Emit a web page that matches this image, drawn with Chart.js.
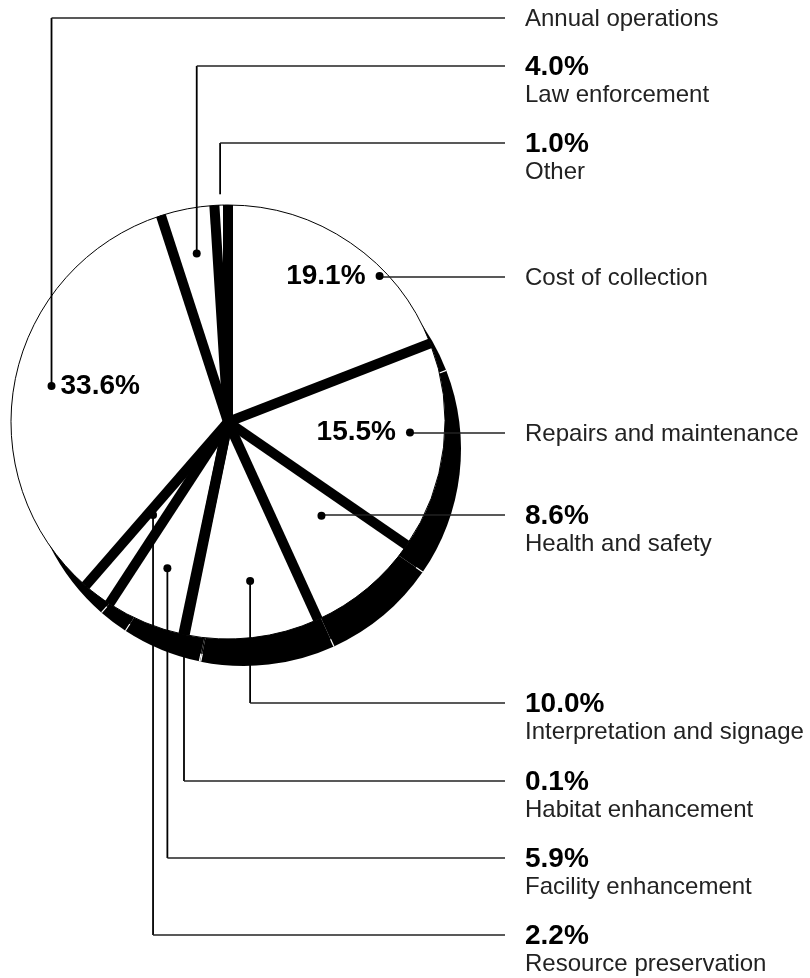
<!DOCTYPE html>
<html>
<head>
<meta charset="utf-8">
<script src="https://cdn.jsdelivr.net/npm/chart.js@4.4.0/dist/chart.umd.min.js"></script>
<style>
  html, body { margin: 0; padding: 0; background: #fff; }
</style>
</head>
<body>
<canvas id="chart" width="810" height="978"></canvas>
<script>
const categories = ['Cost of collection', 'Repairs and maintenance', 'Health and safety',
    'Interpretation and signage', 'Habitat enhancement', 'Facility enhancement',
    'Resource preservation', 'Annual operations', 'Law enforcement', 'Other'];
const shares = [19.1, 15.5, 8.6, 10.0, 0.1, 5.9, 2.2, 33.6, 4.0, 1.0];

// callout layout: row of each label, and where its leader starts inside the slice
const labelY = [277, 433, 515, 703, 781, 858, 935, 18, 66, 143];
const anchorFrac = [0.67, 0.44, 0.34, 0.46, 0.5, 0.5, 0.73, 0.5, 0.52, 0.45];
const anchorRadius = [0.97, 0.84, 0.61, 0.74, 1.0, 0.73, 0.55, 0.83, 0.79, 1.05];
const pctInside = ['left', 'left', null, null, null, null, null, 'right', null, null];

const LINE_END = 505;
const TEXT_X = 525;
const SHADOW = { x: 16, y: 27 };

const shadowPlugin = {
    id: 'shadow',
    beforeDatasetsDraw(chart) {
        const ctx = chart.ctx;
        const arcs = chart.getDatasetMeta(0).data;
        ctx.save();
        ctx.translate(SHADOW.x, SHADOW.y);
        arcs.forEach(a => {
            ctx.beginPath();
            ctx.moveTo(a.x, a.y);
            ctx.arc(a.x, a.y, a.outerRadius, a.startAngle, a.endAngle);
            ctx.closePath();
            ctx.fillStyle = '#000';
            ctx.fill();
        });
        // small notches where the slices meet
        ctx.strokeStyle = '#fff';
        ctx.lineWidth = 1.2;
        arcs.forEach(a => {
            const r = a.outerRadius;
            ctx.beginPath();
            ctx.moveTo(a.x + (r - 8) * Math.cos(a.startAngle), a.y + (r - 8) * Math.sin(a.startAngle));
            ctx.lineTo(a.x + r * Math.cos(a.startAngle), a.y + r * Math.sin(a.startAngle));
            ctx.stroke();
        });
        ctx.restore();
    }
};

const calloutPlugin = {
    id: 'callouts',
    afterDatasetsDraw(chart) {
        const ctx = chart.ctx;
        const arcs = chart.getDatasetMeta(0).data;
        ctx.save();

        // thick separators between slices
        ctx.strokeStyle = '#000';
        ctx.lineWidth = 10;
        ctx.lineCap = 'butt';
        arcs.forEach(a => {
            ctx.beginPath();
            ctx.moveTo(a.x, a.y);
            ctx.lineTo(a.x + a.outerRadius * Math.cos(a.startAngle), a.y + a.outerRadius * Math.sin(a.startAngle));
            ctx.stroke();
        });

        arcs.forEach((a, i) => {
            const ang = a.startAngle + (a.endAngle - a.startAngle) * anchorFrac[i];
            const r = a.outerRadius * anchorRadius[i];
            const ax = a.x + r * Math.cos(ang);
            const ay = a.y + r * Math.sin(ang);
            const y = labelY[i];

            ctx.strokeStyle = '#000';
            ctx.lineWidth = 1.8;
            ctx.beginPath();
            ctx.moveTo(ax, ay);
            ctx.lineTo(ax, y);
            ctx.stroke();
            ctx.lineWidth = 1.3;
            ctx.strokeStyle = '#222';
            ctx.beginPath();
            ctx.moveTo(ax, y);
            ctx.lineTo(LINE_END, y);
            ctx.stroke();

            if (anchorRadius[i] < 0.99) {
                ctx.fillStyle = '#000';
                ctx.beginPath();
                ctx.arc(ax, ay, 4, 0, Math.PI * 2);
                ctx.fill();
            }

            const pct = shares[i].toFixed(1) + '%';
            ctx.textBaseline = 'middle';
            if (pctInside[i]) {
                ctx.font = 'bold 28px "Liberation Sans", Arial, sans-serif';
                ctx.fillStyle = '#000';
                if (pctInside[i] === 'left') {
                    ctx.textAlign = 'right';
                    ctx.fillText(pct, ax - 14, ay);
                } else {
                    ctx.textAlign = 'left';
                    ctx.fillText(pct, ax + 9, ay);
                }
                ctx.textAlign = 'left';
                ctx.font = '24px "Liberation Sans", Arial, sans-serif';
                ctx.fillStyle = '#222';
                ctx.fillText(categories[i], TEXT_X, y + 1);
            } else {
                ctx.textAlign = 'left';
                ctx.font = 'bold 28px "Liberation Sans", Arial, sans-serif';
                ctx.fillStyle = '#000';
                ctx.fillText(pct, TEXT_X, y + 1);
                ctx.font = '24px "Liberation Sans", Arial, sans-serif';
                ctx.fillStyle = '#222';
                ctx.fillText(categories[i], TEXT_X, y + 29);
            }
        });
        ctx.restore();
    }
};

new Chart(document.getElementById('chart'), {
    type: 'pie',
    data: {
        labels: categories,
        datasets: [{
            data: shares,
            backgroundColor: '#fff',
            borderColor: '#000',
            borderWidth: 1,
            hoverOffset: 0
        }]
    },
    options: {
        responsive: false,
        animation: false,
        radius: 217,
        layout: {
            padding: { left: 10, right: 364, top: 200, bottom: 334 }
        },
        plugins: {
            legend: { display: false },
            tooltip: { enabled: false }
        }
    },
    plugins: [shadowPlugin, calloutPlugin]
});
</script>
</body>
</html>
